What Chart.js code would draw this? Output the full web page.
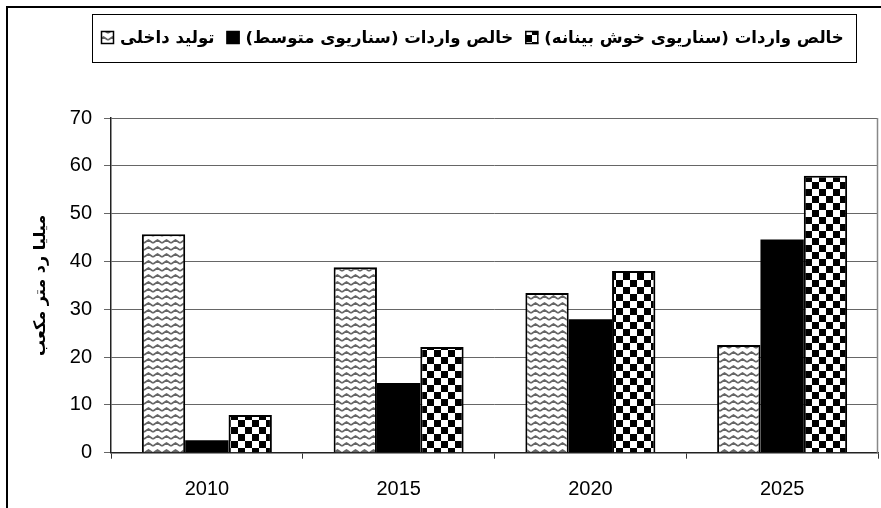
<!DOCTYPE html>
<html>
<head>
<meta charset="utf-8">
<script src="https://cdn.jsdelivr.net/npm/chart.js@4.4.1/dist/chart.umd.min.js"></script>
<style>
  html, body { margin: 0; padding: 0; background: #fff; }
  #wrap { width: 881px; height: 508px; }
</style>
</head>
<body>
<div id="wrap"><canvas id="chart" width="881" height="508"></canvas></div>
<script>
// data
const years = ['2010', '2015', '2020', '2025']
const domestic = [45.7, 38.8, 33.4, 22.5]
const importsMid = [2.6, 14.6, 27.9, 44.6]
const importsOpt = [7.9, 22.1, 38.0, 57.9]
const seriesNames = ['تولید داخلی', 'خالص واردات (سناریوی متوسط)', 'خالص واردات (سناریوی خوش بینانه)']
const yTitle = 'میلیا رد متر مکعب'
const yMin = 0, yMax = 70, yStep = 10

// fill patterns
function wavePattern() {
  let c = document.createElement('canvas')
  c.width = 9; c.height = 7
  let g = c.getContext('2d')
  g.fillStyle = '#fff'
  g.fillRect(0, 0, 9, 7)
  g.strokeStyle = '#666'
  g.lineWidth = 1.7
  g.beginPath()
  g.moveTo(0, 5)
  g.lineTo(2.25, 3.5)
  g.lineTo(4.5, 2)
  g.lineTo(6.75, 3.5)
  g.lineTo(9, 5)
  g.stroke()
  return g.createPattern(c, 'repeat')
}
function checkPattern() {
  let c = document.createElement('canvas')
  c.width = 14; c.height = 14
  let g = c.getContext('2d')
  g.fillStyle = '#fff'
  g.fillRect(0, 0, 14, 14)
  g.fillStyle = '#000'
  g.fillRect(0, 0, 7, 7)
  g.fillRect(7, 7, 7, 7)
  return g.createPattern(c, 'repeat')
}

let ctx = document.querySelector('#chart').getContext('2d')
let fills = [wavePattern(), '#000', checkPattern()]

// frame, legend box, right plot border, legend
const decorations = {
  id: 'decorations',
  afterDraw(chart) {
    let c = chart.ctx
    let a = chart.chartArea
    c.save()
    // outer frame
    c.strokeStyle = '#000'
    c.lineWidth = 2
    c.strokeRect(7, 7, 900, 520)
    // right border of plot
    c.strokeStyle = '#888'
    c.lineWidth = 1.5
    c.beginPath()
    c.moveTo(a.right - 0.5, a.top)
    c.lineTo(a.right - 0.5, a.bottom)
    c.stroke()
    // legend box
    c.strokeStyle = '#000'
    c.lineWidth = 1
    c.strokeRect(92.5, 14.5, 764, 48)
    // legend items, font shrunk so the row fits the box
    let names = chart.data.datasets.map(ds => ds.label)
    c.font = 'bold 18px "DejaVu Sans"'
    let w = names.reduce((s, n) => s + c.measureText(n).width, 0)
    let size = Math.min(18, 18 * 662 / w)
    c.font = 'bold ' + size.toFixed(2) + 'px "DejaVu Sans"'
    c.direction = 'rtl'
    c.textAlign = 'left'
    c.textBaseline = 'middle'
    let x = 101
    chart.data.datasets.forEach((ds, i) => {
      c.fillStyle = ds.backgroundColor
      c.fillRect(x, 31, 13, 13)
      c.strokeStyle = '#000'
      c.lineWidth = 1.5
      c.strokeRect(x + 0.5, 31.5, 12, 12)
      x += 19
      c.fillStyle = '#000'
      c.fillText(ds.label, x, 38.5)
      x += c.measureText(ds.label).width + 12
    })
    c.restore()
  }
}

let chart = new Chart(ctx, {
  type: 'bar',
  data: {
    labels: years,
    datasets: [domestic, importsMid, importsOpt].map((vals, i) => ({
      label: seriesNames[i],
      data: vals,
      backgroundColor: fills[i],
      borderColor: '#000',
      borderWidth: i == 1 ? 0 : 2,
      categoryPercentage: 0.678,
      barPercentage: 1
    }))
  },
  options: {
    responsive: false,
    animation: false,
    layout: { padding: { top: 118, right: 3, bottom: 0, left: 0 } },
    plugins: {
      legend: { display: false },
      tooltip: { enabled: false }
    },
    scales: {
      x: {
        afterFit(scale) { scale.height = 55.3 },
        grid: { offset: true, drawOnChartArea: false, tickLength: 6, color: '#333', lineWidth: 1 },
        border: { color: '#222', width: 1.5 },
        ticks: { color: '#000', padding: 19, font: { family: '"Liberation Sans", Arial', size: 20 } }
      },
      y: {
        min: yMin,
        max: yMax,
        afterFit(scale) { scale.width = 111 },
        grid: { color: '#666', tickLength: 7, lineWidth: 1 },
        border: { color: '#222', width: 1.5 },
        ticks: { stepSize: yStep, color: '#000', padding: 12, font: { family: '"Liberation Sans", Arial', size: 20 } },
        title: {
          display: true,
          text: yTitle,
          color: '#000',
          padding: { top: 31 },
          font: { family: '"DejaVu Sans"', size: 16, weight: 'bold' }
        }
      }
    }
  },
  plugins: [decorations]
})
</script>
</body>
</html>
